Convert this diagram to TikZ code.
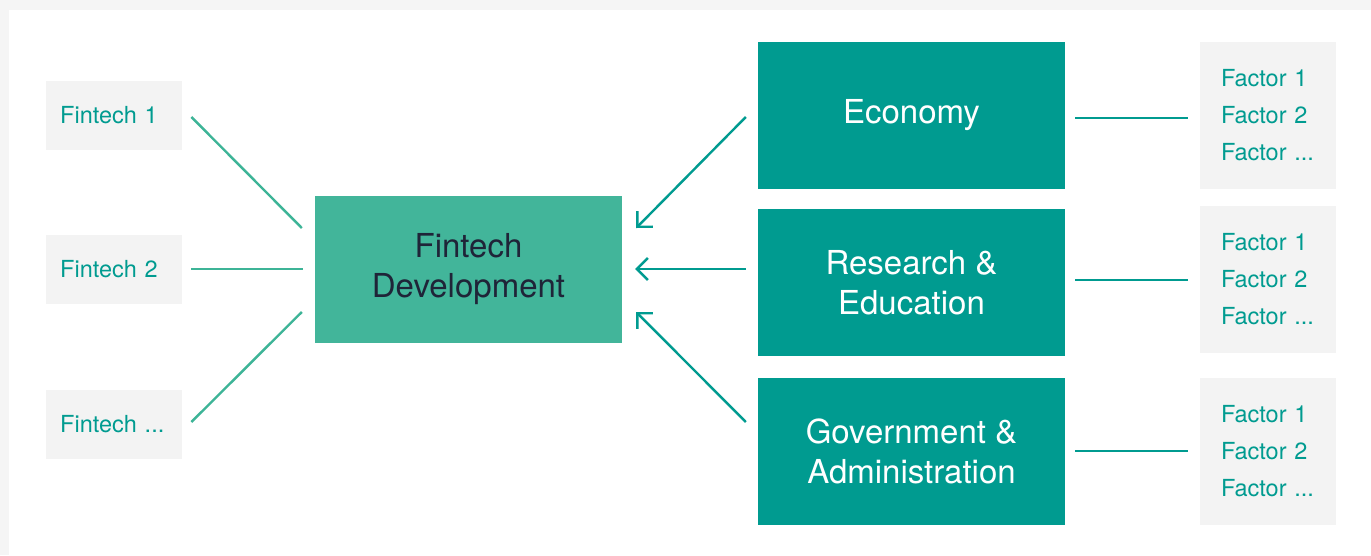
\documentclass[tikz,border=0pt]{standalone}
\usepackage{fontspec}
\setmainfont{TeX Gyre Heros}
\usepackage{tikz}
\usetikzlibrary{calc,arrows.meta}
\definecolor{pagegrey}{HTML}{F5F5F5}
\definecolor{boxgrey}{HTML}{F3F3F3}
\definecolor{devgreen}{HTML}{42B59A}
\definecolor{fteal}{HTML}{009B90}
\definecolor{linkgreen}{HTML}{3DB497}
\definecolor{darkink}{HTML}{1F2438}
\tikzstyle{fintech}=[fill=boxgrey, text=fteal, anchor=west, minimum width=136, minimum height=69, text width=108, inner xsep=14, align=left, font=\fontsize{23.5}{28}\selectfont]
\tikzstyle{factors}=[fill=boxgrey, text=fteal, minimum width=136, minimum height=147, text width=94, inner xsep=21, align=left, font=\fontsize{23.5}{37}\selectfont]
\tikzstyle{area}=[fill=fteal, text=white, minimum width=307, minimum height=147, align=center, font=\fontsize{33}{40}\selectfont]
\tikzstyle{core}=[fill=devgreen, text=darkink, minimum width=307, minimum height=147, align=center, font=\fontsize{33}{40}\selectfont]
\tikzstyle{link}=[draw=linkgreen, line width=2.4]
\tikzstyle{pull}=[draw=fteal, line width=2.4, -{Straight Barb[length=11, width=22]}]
\tikzstyle{tie}=[draw=fteal, line width=2.4]

\begin{document}
\begin{tikzpicture}[x=1pt,y=-1pt]
\fill[pagegrey] (0,0) rectangle (1371,555);
\fill[white] (9,10) rectangle (1371,555);
\useasboundingbox (0,0) rectangle (1371,555);

% fintechs on the left
\node[fintech] (f1) at (46,115.5) {Fintech 1};
\node[fintech] (f2) at (46,269.5) {Fintech 2};
\node[fintech] (f3) at (46,424.5) {Fintech ...};

\node[core] (dev) at (468.5,269.5) {Fintech\\Development};

% the three areas with their factors
\foreach \n/\y/\t in {eco/115.5/Economy, res/282.5/Research \&\\Education, gov/451.5/Government \&\\Administration} {
	\node[area] (\n) at (911.5,\y) {\t};
}
\foreach \n/\y in {1/115.5,2/279.5,3/451.5} {
	\node[factors] (fac\n) at (1268,\y) {Factor 1\\Factor 2\\Factor ...};
}

\draw[link] ($(f1.east)+(9,1.5)$) -- ($(dev.west)+(-13,-41.5)$);
\draw[link] ($(f2.east)+(9,-0.5)$) -- ($(dev.west)+(-12,-0.5)$);
\draw[link] ($(f3.east)+(9,-2.5)$) -- ($(dev.west)+(-13,42.5)$);

\draw[pull] ($(eco.west)+(-12,1.5)$) -- ($(dev.east)+(14,-41.5)$);
\draw[pull] ($(res.west)+(-12,-13.5)$) -- ($(dev.east)+(13,-0.5)$);
\draw[pull] ($(gov.west)+(-12,-29.5)$) -- ($(dev.east)+(14,42.5)$);

\draw[tie] ($(eco.east)+(10,2.5)$) -- ($(fac1.west)+(-12,2.5)$);
\draw[tie] ($(res.east)+(10,-2.5)$) -- ($(fac2.west)+(-12,0.5)$);
\draw[tie] ($(gov.east)+(10,-0.5)$) -- ($(fac3.west)+(-12,-0.5)$);
\end{tikzpicture}
\end{document}
